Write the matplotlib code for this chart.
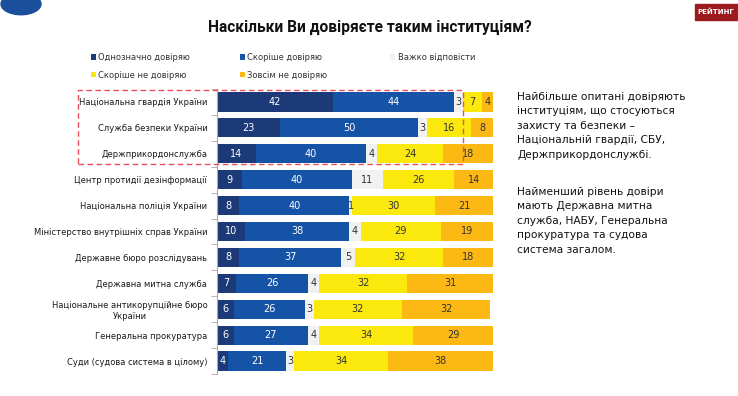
import matplotlib
matplotlib.use("agg")
import matplotlib.pyplot as plt
from matplotlib.patches import Rectangle, Circle
import numpy as np

plt.rcParams['font.family'] = ['DejaVu Sans']

# дані
categories = [
    "Національна гвардія України",
    "Служба безпеки України",
    "Держприкордонслужба",
    "Центр протидії дезінформації",
    "Національна поліція України",
    "Міністерство внутрішніх справ України",
    "Державне бюро розслідувань",
    "Державна митна служба",
    "Національне антикорупційне бюро\nУкраїни",
    "Генеральна прокуратура",
    "Суди (судова система в цілому)",
]
series_names = ["Однозначно довіряю", "Скоріше довіряю", "Важко відповісти",
                "Скоріше не довіряю", "Зовсім не довіряю"]
definitely_trust = [42, 23, 14, 9, 8, 10, 8, 7, 6, 6, 4]
rather_trust = [44, 50, 40, 40, 40, 38, 37, 26, 26, 27, 21]
hard_to_say = [3, 3, 4, 11, 1, 4, 5, 4, 3, 4, 3]
rather_distrust = [7, 16, 24, 26, 30, 29, 32, 32, 32, 34, 34]
no_trust = [4, 8, 18, 14, 21, 19, 18, 31, 32, 29, 38]

colors = ["#1c3a78", "#1553a6", "#f1f1f1", "#fbe80c", "#fdb913"]
label_colors = ["white", "white", "#333333", "#333333", "#333333"]

W, H = 738, 396
fig = plt.figure(figsize=(W / 100, H / 100), dpi=100)

ax = fig.add_axes([217 / W, 1 - 374 / H, 276 / W, 285 / H])
series = [definitely_trust, rather_trust, hard_to_say, rather_distrust, no_trust]
y = np.arange(len(categories))
left = np.zeros(len(categories))
handles = []
for vals, col, tcol, name in zip(series, colors, label_colors, series_names):
    vals = np.array(vals, dtype=float)
    bars = ax.barh(y, vals, left=left, height=0.74, color=col, label=name)
    handles.append(bars)
    for yi, v, l in zip(y, vals, left):
        ax.text(l + v / 2, yi, f"{int(v)}", ha="center", va="center",
                fontsize=7, color=tcol)
    left += vals

ax.set_xlim(0, 100)
ax.set_ylim(len(categories) - 0.5, -0.5)
ax.set_xticks([])
ax.set_yticks(y)
ax.set_yticklabels(categories, fontsize=6.0, color="#1a1a1a", multialignment="center")
ax.tick_params(axis="y", which="major", length=0, pad=7)
ax.set_yticks(np.arange(-0.5, len(categories), 1), minor=True)
ax.tick_params(axis="y", which="minor", length=4, color="#aaaaaa")
for s in ["top", "right", "bottom"]:
    ax.spines[s].set_visible(False)
ax.spines["left"].set_color("#aaaaaa")

# рамка навколо силових структур
fig.add_artist(Rectangle((78 / W, 1 - 164 / H), (463 - 78) / W, (164 - 90) / H,
                         transform=fig.transFigure, fill=False,
                         edgecolor="#e8505b", linestyle=(0, (4, 2.5)), linewidth=1.0))

# заголовок
fig.text(370 / W, 1 - 27 / H, "Наскільки Ви довіряєте таким інституціям?",
         ha="center", va="center", fontsize=11.2, fontweight="bold",
         family=["Roboto", "DejaVu Sans"], color="#111111")

# легенда: два стовпці + окремо «Важко відповісти»
leg_kw = dict(loc="upper left", frameon=False, fontsize=6, handlelength=0.6,
              handleheight=0.6, handletextpad=0.3, labelspacing=1.05,
              borderpad=0, borderaxespad=0)
order = [0, 3, 1, 4]
leg = fig.legend([handles[i] for i in order], [series_names[i] for i in order],
                 bbox_to_anchor=(91 / W, 1 - 53 / H), ncol=2,
                 columnspacing=5.9, **leg_kw)
leg2 = fig.legend([handles[2]], [series_names[2]],
                  bbox_to_anchor=(390 / W, 1 - 53 / H), **leg_kw)
for t in leg.get_texts() + leg2.get_texts():
    t.set_color("#333333")

# коментар праворуч
note1 = ("Найбільше опитані довіряють\n"
         "інституціям, що стосуються\n"
         "захисту та безпеки –\n"
         "Національній гвардії, СБУ,\n"
         "Держприкордонслужбі.")
note2 = ("Найменший рівень довіри\n"
         "мають Державна митна\n"
         "служба, НАБУ, Генеральна\n"
         "прокуратура та судова\n"
         "система загалом.")
fig.text(517 / W, 1 - 92 / H, note1, ha="left", va="top", fontsize=7.7,
         color="#111111", linespacing=1.55)
fig.text(517 / W, 1 - 187 / H, note2, ha="left", va="top", fontsize=7.7,
         color="#111111", linespacing=1.55)

# логотип і позначка
fig.add_artist(Circle((21 / W, 1 - 4 / H), 20 / W, transform=fig.transFigure,
                      color="#1b4f9c", clip_on=False))
fig.add_artist(Rectangle((695 / W, 1 - 20 / H), 43 / W, 16 / H,
                         transform=fig.transFigure, color="#9b1b1f"))
fig.text(716 / W, 1 - 12 / H, "РЕЙТИНГ", ha="center", va="center",
         fontsize=5, fontweight="bold", color="white")

fig.savefig("out.png", dpi=100)
